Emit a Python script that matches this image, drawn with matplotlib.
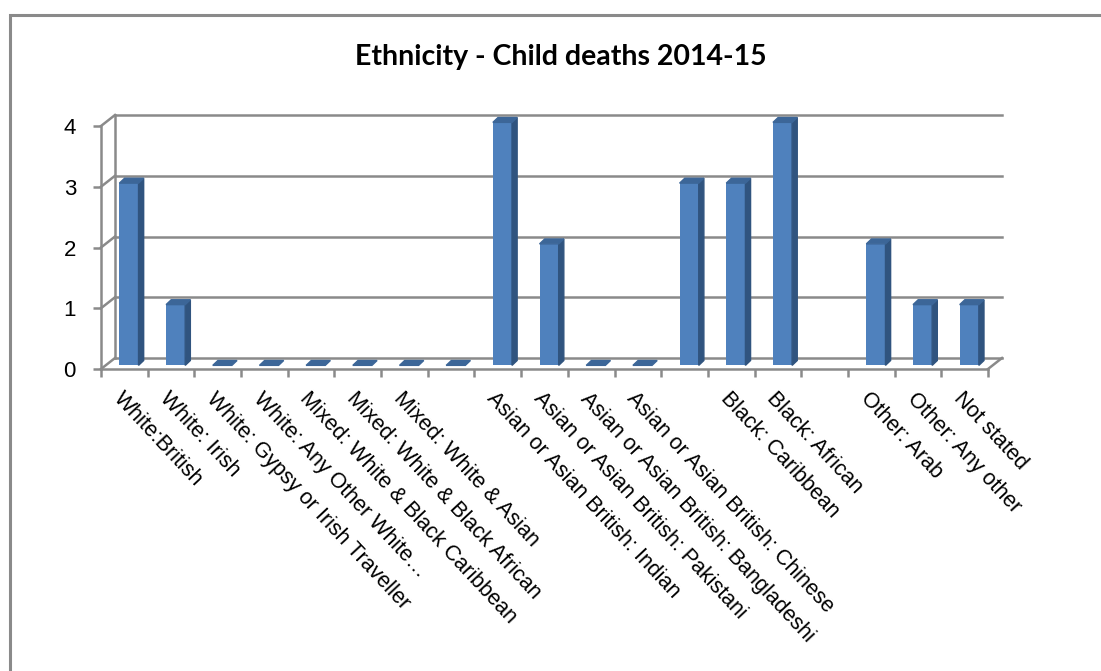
import numpy as np
import matplotlib
matplotlib.use("Agg")
import matplotlib.pyplot as plt
from matplotlib.patches import Polygon, Rectangle

# categories (some have no label in the source chart)
categories = ['White:British', 'White: Irish', 'White: Gypsy or Irish Traveller',
              'White: Any Other White…', 'Mixed: White & Black Caribbean',
              'Mixed: White & Black African', 'Mixed: White & Asian', '',
              'Asian or Asian British: Indian', 'Asian or Asian British: Pakistani',
              'Asian or Asian British: Bangladeshi', 'Asian or Asian British: Chinese',
              '', 'Black: Caribbean', 'Black: African', '',
              'Other: Arab', 'Other: Any other', 'Not stated']
deaths = [3, 1, 0, 0, 0, 0, 0, 0, 4, 2, 0, 0, 3, 3, 4, np.nan, 2, 1, 1]
yticks = [0, 1, 2, 3, 4]

W, H = 1101, 671
fig = plt.figure(figsize=(W / 100, H / 100), dpi=100)
ax = fig.add_axes([101 / W, 1 - 369 / H, 887 / W, 243 / H])

n = len(categories)
x = np.arange(n)
ax.set_xlim(-0.5, n - 0.5)
ax.set_ylim(0, 4)

# depth of the fake 3d box (data units)
dx, dy = 0.30, 0.181
grid_c = '#8a8a8a'

# back wall gridlines + left wall diagonals
for v in yticks:
    ax.plot([-0.5 + dx, n - 0.5 + dx], [v + dy, v + dy], color=grid_c, lw=1.8, clip_on=False)
    ax.plot([-0.5, -0.5 + dx], [v, v + dy], color=grid_c, lw=1.8, clip_on=False)
ax.plot([-0.5 + dx, -0.5 + dx], [dy, 4 + dy], color=grid_c, lw=1.8, clip_on=False)
ax.plot([n - 0.5, n - 0.5 + dx], [0, dy], color=grid_c, lw=1.8, clip_on=False)

# bars: front face with ax.bar, side and top faces as polygons
bw = 0.41
f = 0.33
bdx, bdy = 0.11, 0.08
front_c, side_c, top_c = '#4F81BD', '#30547F', '#3C6698'
for xi, v in zip(x, deaths):
    if np.isnan(v):
        continue
    xl = xi + dx * f - bw / 2
    xr = xl + bw
    b = dy * f
    if v > 0:
        ax.bar(xi + dx * f, v, width=bw, bottom=b, color=front_c, zorder=3, clip_on=False)
        ax.add_patch(Polygon([(xr, b), (xr + bdx, b + bdy), (xr + bdx, b + v + bdy), (xr, b + v)],
                             closed=True, color=side_c, zorder=3, clip_on=False))
    t = b + v
    ax.add_patch(Polygon([(xl, t), (xl + bdx, t + bdy), (xr + bdx, t + bdy), (xr, t)],
                         closed=True, color=top_c, zorder=3, clip_on=False))

# axes styling
for s in ['top', 'right']:
    ax.spines[s].set_visible(False)
for s in ['left', 'bottom']:
    ax.spines[s].set_color(grid_c)
    ax.spines[s].set_linewidth(1.8)

ax.set_yticks(yticks)
ax.set_yticklabels([str(t) for t in yticks], fontsize=16, family='Liberation Sans')
ax.tick_params(axis='y', length=6, width=1.8, color=grid_c, pad=12)

ax.set_xticks(np.arange(-0.5, n, 1))
ax.set_xticklabels([])
ax.tick_params(axis='x', which='major', length=6, width=1.8, color=grid_c)
ax.set_xticks(x, minor=True)
ax.set_xticklabels(categories, minor=True, rotation=-47, ha='left', va='top',
                   rotation_mode='anchor', fontsize=15.5, family='Liberation Sans')
ax.tick_params(axis='x', which='minor', length=0, pad=14)

fig.text(561 / W, 1 - 57 / H, 'Ethnicity - Child deaths 2014-15', ha='center', va='center',
         fontsize=20.5, fontweight='bold', family='Lato')

# chart border (runs off the right and bottom of the picture)
fig.add_artist(Rectangle((9.5 / W, -0.2), 1.2, 1.2 - 15 / H, transform=fig.transFigure,
                         fill=False, edgecolor='#8a8a8a', lw=2.2))

fig.savefig('out.png', dpi=100)
